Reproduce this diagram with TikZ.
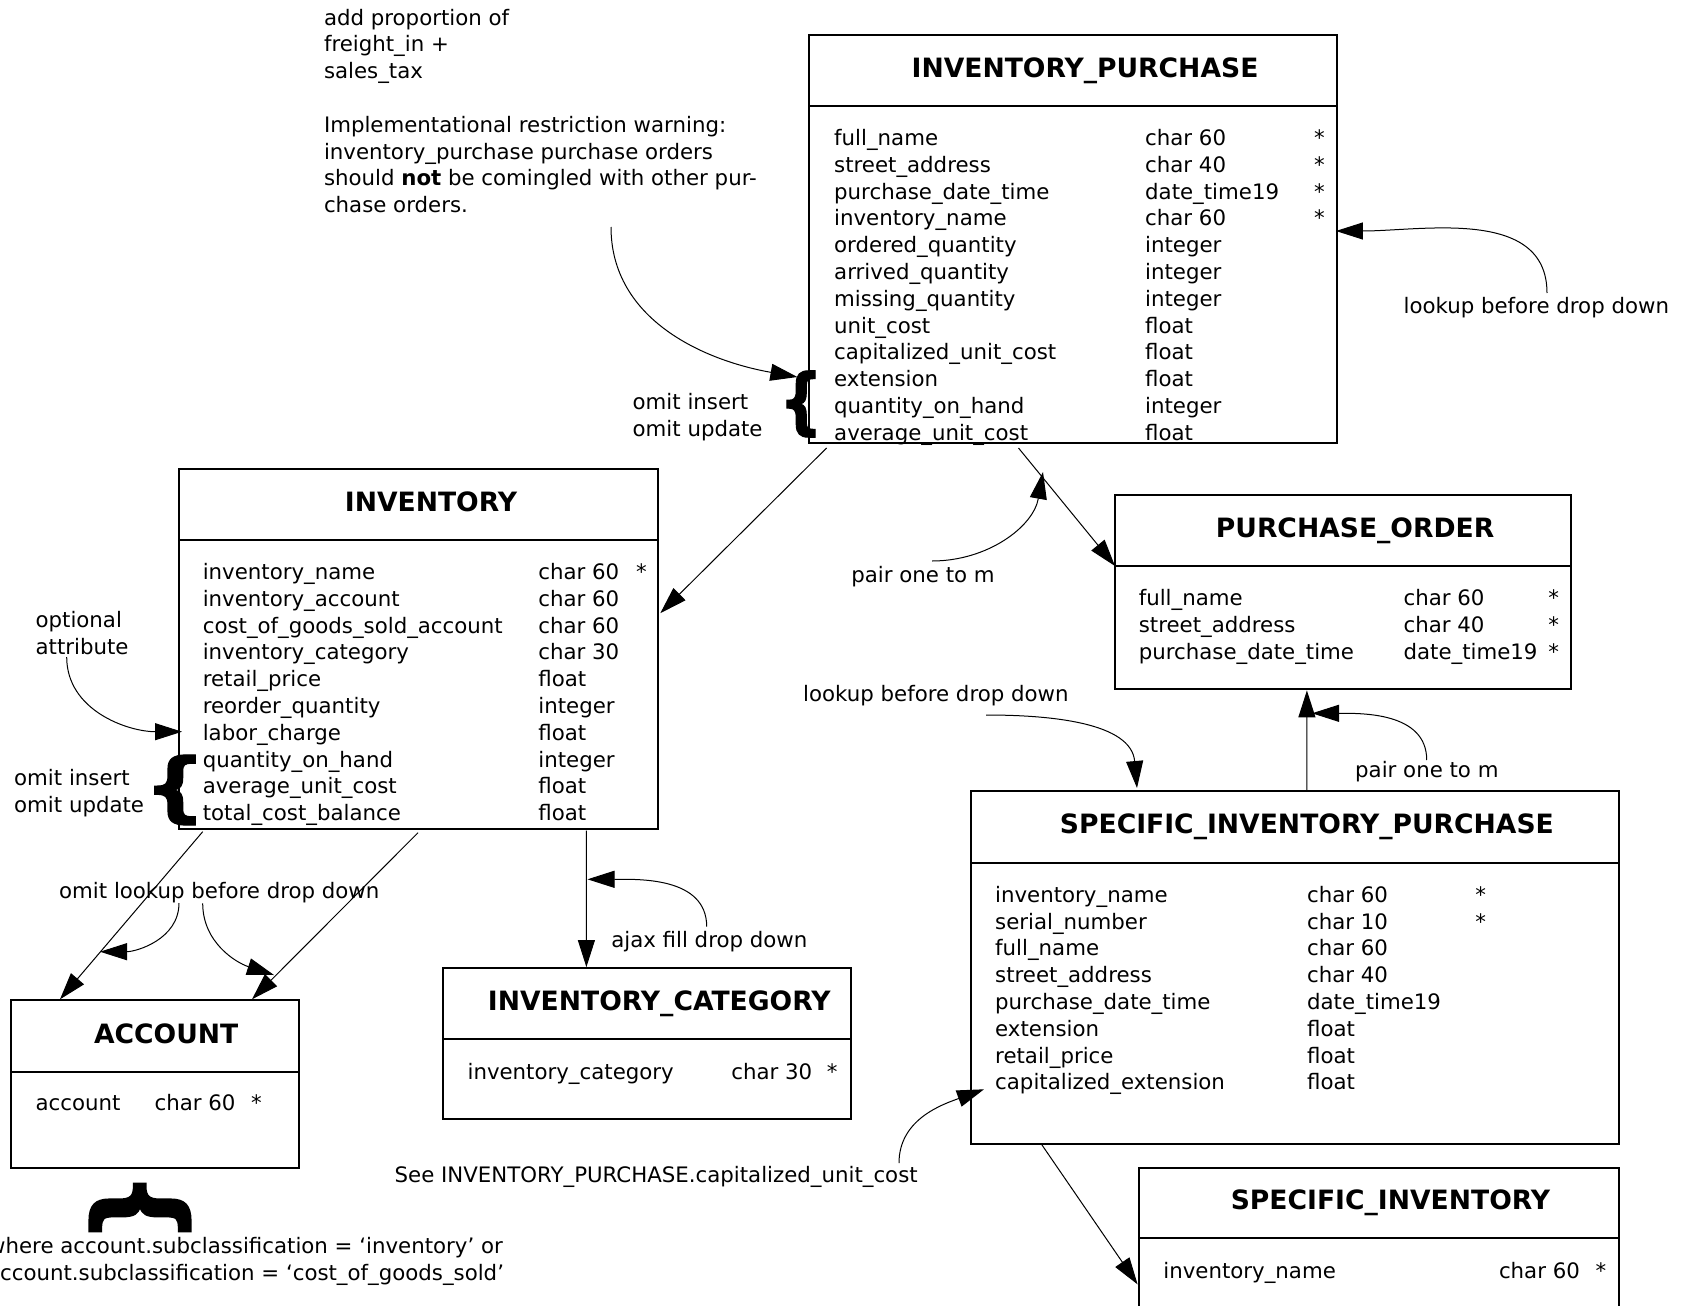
\documentclass[tikz,border=0pt]{standalone}
\usepackage{fontspec}
\setmainfont{DejaVu Sans}
\newfontfamily\bracefont[FakeBold=1.5]{DejaVu Sans Bold}
\usetikzlibrary{arrows.meta,calc}
\newcommand\fldfont{\fontsize{21.3}{26.8}\selectfont}
\newcommand\ttlfont{\fontsize{26.6}{30}\selectfont\bfseries}
\tikzset{
  entity/.style={draw, line width=2pt, inner sep=0pt, outer sep=0pt, anchor=north west},
  ttl/.style={anchor=base, inner sep=0pt, font=\ttlfont},
  fld/.style={anchor=base west, inner sep=0pt, font=\fldfont},
  lbl/.style={anchor=base west, inner sep=0pt, font=\fldfont},
  mlbl/.style={anchor=north west, inner sep=0pt, font=\fldfont, align=left},
  conn/.style={line width=1pt, -{Triangle[length=27pt,width=17pt]}},
  sepline/.style={line width=2pt},
  bracenode/.style={inner sep=0pt, outer sep=0pt},
}
\newcommand\fieldrows[6]{%
  \foreach \rA/\rB/\rC [count=\rI from 0] in {#6} {
    \node[fld] (#1n\rI) at (#2,{-(#5)-26.8*\rI}) {\rA};
    \node[fld] (#1t\rI) at (#3,{-(#5)-26.8*\rI}) {\rB};
    \node[fld] (#1s\rI) at (#4,{-(#5)-26.8*\rI}) {\rC};
  }}
\begin{document}
\begin{tikzpicture}[x=1pt,y=1pt]
\fill[white] (0,0) rectangle (1681,-1306);
\useasboundingbox (0,0) rectangle (1681,-1306);
\clip (0,0) rectangle (1681,-1306);

% ---------- INVENTORY_PURCHASE
\node[entity, minimum width=527.5pt, minimum height=407.4pt] (ip) at (809.4,-35.4) {};
\draw[sepline] ($(ip.north west)+(0,-70.7)$) -- ($(ip.north east)+(0,-70.7)$);
\node[ttl] (ipT) at (1085,-77.2) {INVENTORY\_PURCHASE};
\fieldrows{ip}{834}{1145}{1314}{145.4}{full\_name/char 60/*, street\_address/char 40/*, purchase\_date\_time/date\_time19/*, inventory\_name/char 60/*, ordered\_quantity/integer/{}, arrived\_quantity/integer/{}, missing\_quantity/integer/{}, unit\_cost/float/{}, capitalized\_unit\_cost/float/{}, extension/float/{}, quantity\_on\_hand/integer/{}, average\_unit\_cost/float/{}}

% ---------- INVENTORY
\node[entity, minimum width=479.3pt, minimum height=360.2pt] (inv) at (179,-468.5) {};
\draw[sepline] ($(inv.north west)+(0,-71.8)$) -- ($(inv.north east)+(0,-71.8)$);
\node[ttl] (invT) at (431,-511.4) {INVENTORY};
\fieldrows{inv}{202.6}{538.2}{635.8}{579.5}{inventory\_name/char 60/*, inventory\_account/char 60/{}, cost\_of\_goods\_sold\_account/char 60/{}, inventory\_category/char 30/{}, retail\_price/float/{}, reorder\_quantity/integer/{}, labor\_charge/float/{}, quantity\_on\_hand/integer/{}, average\_unit\_cost/float/{}, total\_cost\_balance/float/{}}

% ---------- PURCHASE_ORDER
\node[entity, minimum width=455.6pt, minimum height=194.1pt] (po) at (1115,-495.3) {};
\draw[sepline] ($(po.north west)+(0,-70.8)$) -- ($(po.north east)+(0,-70.8)$);
\node[ttl] (poT) at (1355.1,-537.2) {PURCHASE\_ORDER};
\fieldrows{po}{1138.6}{1403.4}{1548.1}{605.5}{full\_name/char 60/*, street\_address/char 40/*, purchase\_date\_time/date\_time19/*}

% ---------- SPECIFIC_INVENTORY_PURCHASE
\node[entity, minimum width=647.6pt, minimum height=352.7pt] (sip) at (971.3,-791.2) {};
\draw[sepline] ($(sip.north west)+(0,-71.8)$) -- ($(sip.north east)+(0,-71.8)$);
\node[ttl] (sipT) at (1306.9,-833.1) {SPECIFIC\_INVENTORY\_PURCHASE};
\fieldrows{sip}{995}{1306.9}{1475.2}{902.3}{inventory\_name/char 60/*, serial\_number/char 10/*, full\_name/char 60/{}, street\_address/char 40/{}, purchase\_date\_time/date\_time19/{}, extension/float/{}, retail\_price/float/{}, capitalized\_extension/float/{}}

% ---------- INVENTORY_CATEGORY
\node[entity, minimum width=408.4pt, minimum height=151.2pt] (ic) at (442.8,-968.1) {};
\draw[sepline] ($(ic.north west)+(0,-70.8)$) -- ($(ic.north east)+(0,-70.8)$);
\node[ttl] (icT) at (659.3,-1010) {INVENTORY\_CATEGORY};
\fieldrows{ic}{467.4}{731.2}{826.6}{1079.3}{inventory\_category/char 30/*}

% ---------- ACCOUNT
\node[entity, minimum width=288.4pt, minimum height=167.2pt] (acc) at (10.7,-1000.3) {};
\draw[sepline] ($(acc.north west)+(0,-71.8)$) -- ($(acc.north east)+(0,-71.8)$);
\node[ttl] (accT) at (166.2,-1043.2) {ACCOUNT};
\fieldrows{acc}{35.4}{154.4}{250.9}{1110.4}{account/char 60/*}

% ---------- SPECIFIC_INVENTORY
\node[entity, minimum width=480.3pt, minimum height=250pt] (si) at (1138.6,-1167.5) {};
\draw[sepline] ($(si.north west)+(0,-70.8)$) -- ($(si.north east)+(0,-70.8)$);
\node[ttl] (siT) at (1390.5,-1209.4) {SPECIFIC\_INVENTORY};
\fieldrows{si}{1163.2}{1498.8}{1595.3}{1278.8}{inventory\_name/char 60/*}

% ---------- labels
\node[mlbl] (note) at (323.8,-8.8) {add proportion of\\freight\_in +\\sales\_tax\\[26.8pt]Implementational restriction warning:\\inventory\_purchase purchase orders\\should \textbf{not} be comingled with other pur-\\chase orders.};
\node[mlbl] (ipom) at (632.5,-393.2) {omit insert\\omit update};
\node[lbl] (lk1) at (1403.4,-313.5) {lookup before drop down};
\node[mlbl] (opt) at (35.4,-611.5) {optional\\attribute};
\node[mlbl] (invom) at (14,-769.5) {omit insert\\omit update};
\node[lbl] (olk) at (59,-898) {omit lookup before drop down};
\node[anchor=north, inner sep=0pt, font=\fldfont, align=center] (where) at (245.5,-1237.5) {where account.subclassification = ‘inventory’ or\\account.subclassification = ‘cost\_of\_goods\_sold’};
\node[lbl] (pr1) at (851.2,-582.7) {pair one to m};
\node[lbl] (lk2) at (803,-701.6) {lookup before drop down};
\node[lbl] (pr2) at (1355,-777.8) {pair one to m};
\node[lbl] (ajax) at (611.1,-947.2) {ajax fill drop down};
\node[lbl] (see) at (394.5,-1182) {See INVENTORY\_PURCHASE.capitalized\_unit\_cost};

% ---------- relationship connectors
\draw[conn] ($(ip.south west)+(17.2,-5.2)$) -- ($(inv.north east)+(2,-144.7)$);
\draw[conn] ($(ip.south west)+(209.1,-5.2)$) -- ($(po.north west)+(0,-70.7)$);
\draw[conn] ($(inv.south west)+(23.7,-3)$) -- ($(acc.north west)+(49.3,1)$);
\draw[conn] ($(inv.south west)+(239,-4)$) -- ($(acc.north west)+(241.3,1)$);
\draw[conn] ($(inv.south west)+(407.4,-2)$) -- ($(ic.north west)+(143.6,1)$);
\draw[conn] ($(sip.north west)+(335.6,0)$) -- ($(po.south west)+(191.9,-1)$);
\draw[conn] ($(sip.south west)+(70.7,-1.1)$) -- ($(si.north west)+(-1,-116.9)$);

% ---------- annotation curves
\coordinate (cA) at (611,-227);
\draw[conn] (cA) to[out=-90,in=170] ($(ip.north west)+(-12,-341.6)$);
\coordinate (cB) at (1547,-293);
\draw[conn] (cB) to[out=90,in=0] ($(ip.north east)+(-1,-195.6)$);
\coordinate (cC) at (66.7,-657);
\draw[conn] (cC) to[out=-90,in=180] ($(inv.north west)+(3,-263.2)$);
\coordinate (cD) at (179,-903);
\draw[conn] (cD) to[out=-90,in=0] ($(acc.north west)+(89.3,48.6)$);
\coordinate (cE) at (202.7,-903.3);
\draw[conn] (cE) to[out=-90,in=162] ($(acc.north west)+(263.3,25.3)$);
\coordinate (cF) at (932,-561);
\draw[conn] (cF) to[out=0,in=-100] ($(ip.south west)+(233.6,-29.2)$);
\coordinate (cG) at (986,-715);
\draw[conn] (cG) to[out=0,in=95] ($(sip.north west)+(165.7,3.2)$);
\coordinate (cH) at (1426.7,-760);
\draw[conn] (cH) to[out=90,in=0] ($(po.south west)+(197,-23.9)$);
\coordinate (cI) at (706.7,-926.7);
\draw[conn] (cI) to[out=90,in=0] ($(ic.north west)+(144.7,88.8)$);
\coordinate (cJ) at (899,-1163);
\draw[conn] (cJ) to[out=90,in=200] ($(sip.north west)+(12.7,-298.1)$);

% ---------- braces
\node[bracenode] (ipbr) at (801,-404) {\fontsize{72}{72}\selectfont\bracefont\scalebox{0.85}[1]{\{}};
\node[bracenode] (invbr) at (175,-790) {\fontsize{76}{76}\selectfont\bracefont\scalebox{1.15}[1]{\{}};
\node[bracenode] (accbr) at (140,-1207.5) {\fontsize{110}{110}\selectfont\bracefont\rotatebox{-90}{\scalebox{0.95}[1]{\{}}};
\end{tikzpicture}
\end{document}
